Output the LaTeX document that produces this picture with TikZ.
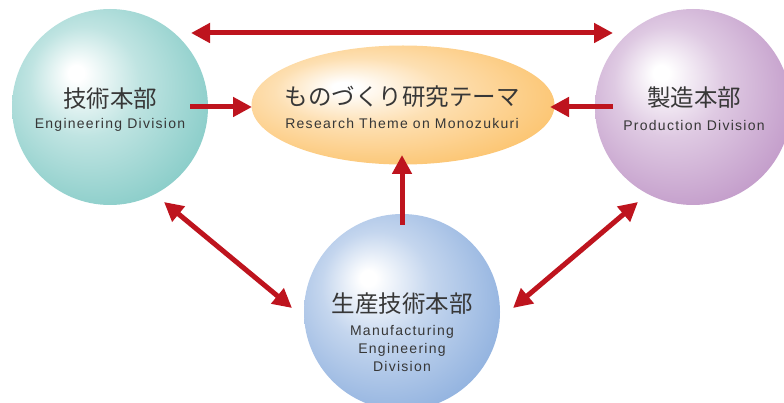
\documentclass[tikz,border=0pt]{standalone}
\usepackage{fontspec}
\usetikzlibrary{arrows.meta,shapes.geometric}
\newfontfamily\jpfont{Noto Sans CJK JP}
\newfontfamily\enfont{Liberation Sans}[LetterSpace=9]
\definecolor{tealC}{RGB}{140,206,202}
\definecolor{purpC}{RGB}{196,158,203}
\definecolor{blueC}{RGB}{148,180,224}
\definecolor{orangeC}{RGB}{252,198,116}
\definecolor{arrowred}{RGB}{190,20,30}
\definecolor{txt}{RGB}{55,55,55}
\pgfdeclareradialshading{tealball}{\pgfpoint{-9bp}{9bp}}{color(0bp)=(white); color(2bp)=(white); color(14bp)=(tealC!55!white); color(30bp)=(tealC); color(50bp)=(tealC!90!black)}
\pgfdeclareradialshading{purpball}{\pgfpoint{-8.5bp}{9bp}}{color(0bp)=(white); color(2bp)=(white); color(14bp)=(purpC!55!white); color(30bp)=(purpC); color(50bp)=(purpC!90!black)}
\pgfdeclareradialshading{blueball}{\pgfpoint{-9bp}{9bp}}{color(0bp)=(white); color(2bp)=(white); color(14bp)=(blueC!55!white); color(30bp)=(blueC); color(50bp)=(blueC!90!black)}
\pgfdeclareradialshading{orangeball}{\pgfpoint{-10bp}{8bp}}{color(0bp)=(white); color(2bp)=(white); color(14bp)=(orangeC!55!white); color(30bp)=(orangeC); color(50bp)=(orangeC!92!black)}
\tikzset{
  ball/.style={circle, minimum size=196pt, inner sep=0pt, draw=none},
  jp/.style={font=\jpfont\fontsize{23.5}{28}\selectfont, text=txt, inner sep=0pt},
  en/.style={font=\enfont\fontsize{14}{18}\selectfont, text=txt, inner sep=0pt, align=center},
  redarrow/.style={draw=arrowred, line width=5pt, -{Triangle[length=19pt,width=19pt]}},
  redboth/.style={draw=arrowred, line width=5pt, {Triangle[length=19pt,width=19pt]}-{Triangle[length=19pt,width=19pt]}}
}
\begin{document}
\begin{tikzpicture}[x=1pt,y=-1pt]
\useasboundingbox (0,0) rectangle (784,403);
% balls
\node[ball, shading=tealball] (eng) at (110,107) {};
\node[ball, shading=purpball] (prod) at (693,107) {};
\node[ball, shading=blueball] (mfg) at (402,312) {};
\node[ellipse, minimum width=303pt, minimum height=119pt, inner sep=0pt, shading=orangeball] (theme) at (403,105) {};
% texts
\node[jp] (engjp) at (110,99) {技術本部};
\node[en] (engen) at (110,125) {Engineering Division};
\node[jp] (prodjp) at (694,98) {製造本部};
\node[en] (proden) at (694,125) {Production Division};
\node[jp] (themejp) at (402,97) {ものづくり研究テーマ};
\node[en] (themeen) at (402,123) {Research Theme on Monozukuri};
\node[jp] (mfgjp) at (402,304) {生産技術本部};
\node[en] (mfgen) at (402,348) {Manufacturing\\Engineering\\Division};
% arrow end points
\coordinate (t1) at (191,33);
\coordinate (t2) at (613,33);
\coordinate (l1) at (190,107);
\coordinate (l2) at (252,107);
\coordinate (r1) at (613,107);
\coordinate (r2) at (550,107);
\coordinate (u1) at (402,225);
\coordinate (u2) at (402,155);
\coordinate (dl1) at (164,202);
\coordinate (dl2) at (292,308);
\coordinate (dr1) at (638,202);
\coordinate (dr2) at (513,308);
% arrows
\draw[redboth] (t1) -- (t2);
\draw[redarrow] (l1) -- (l2);
\draw[redarrow] (r1) -- (r2);
\draw[redarrow] (u1) -- (u2);
\draw[redboth] (dl1) -- (dl2);
\draw[redboth] (dr1) -- (dr2);
\end{tikzpicture}
\end{document}
